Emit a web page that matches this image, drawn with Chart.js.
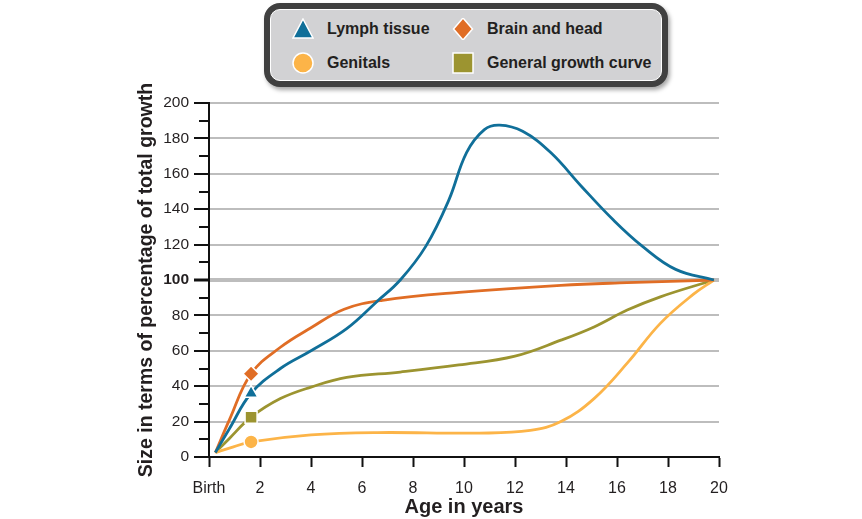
<!DOCTYPE html>
<html>
<head>
<meta charset="utf-8">
<script src="https://cdn.jsdelivr.net/npm/chart.js@4.4.0/dist/chart.umd.min.js"></script>
<style>
  html, body { margin: 0; padding: 0; background: #fff; }
  #wrap { position: relative; width: 862px; height: 519px; }
  #legend {
    position: absolute; left: 264px; top: 3px; width: 404px; height: 84px;
    box-sizing: border-box; border: 6px solid #404040; border-radius: 16px;
    background: #404040; box-shadow: 2px 3px 4px rgba(0,0,0,0.35);
  }
  #legend .inner {
    position: absolute; left: 0; top: 0; right: 0; bottom: 0;
    border: 1.5px solid #fff; border-radius: 10px; background: #d2d2d4;
  }
  #legend .item {
    position: absolute; height: 22px; display: flex; align-items: center;
    font: bold 16px "Liberation Sans", Arial, sans-serif; color: #231f20; white-space: nowrap;
  }
  #legend svg { width: 22px; height: 22px; margin-right: 13px; }
</style>
</head>
<body>
<div id="wrap">
  <canvas id="growth" width="862" height="519"></canvas>
  <div id="legend"><div class="inner"></div></div>
</div>
<script>
// series (age in years, % of total growth)
const seriesNames = ['Lymph tissue', 'Brain and head', 'Genitals', 'General growth curve'];
const seriesColors = ['#106f99', '#e06d25', '#fcb448', '#9c9430'];
const seriesStyles = ['triangle', 'rectRot', 'circle', 'rect'];
const markerAge = 1.65;

const lymphAges = [0.25, 0.8, 1.65, 2.8, 4, 5.4, 6.6, 7.5, 8.5, 9.4, 10.1, 10.8, 11.4, 12.3, 13.4, 14.6, 15.85, 17, 18.3, 19.8];
const lymphValues = [2.5, 16, 36, 50, 60, 72.5, 88, 100, 119, 145, 172, 185, 187.5, 184, 172, 153, 134, 119, 106, 100];

const brainAges = [0.25, 0.8, 1.65, 2.8, 4, 5.3, 6.8, 9.8, 13.8, 16.4, 19.8];
const brainValues = [2.5, 21, 47, 62, 73, 83.5, 88.5, 93, 97, 98.5, 100];

const genitalAges = [0.25, 0.8, 1.65, 4, 6.6, 10.6, 12.6, 13.8, 15.1, 16.4, 17.7, 19, 19.8];
const genitalValues = [2.5, 5, 8.5, 12.5, 13.8, 13.5, 15, 20, 33, 53, 75.5, 92, 100];

const generalAges = [0.25, 0.8, 1.65, 2.8, 4, 5.4, 7.5, 9.8, 12, 13.8, 15.1, 16.4, 17.7, 19.8];
const generalValues = [2.5, 10.5, 22.5, 33, 39.5, 45, 48, 52, 57, 66, 73.5, 83, 90.5, 100];

const xTickLabels = ['Birth', '2', '4', '6', '8', '10', '12', '14', '16', '18', '20'];

const allAges = [lymphAges, brainAges, genitalAges, generalAges];
const allValues = [lymphValues, brainValues, genitalValues, generalValues];
const markerRadius = { triangle: 8, rectRot: 8, circle: 7, rect: 8.5 };

const datasets = seriesNames.map((name, i) => ({
  label: name,
  data: allAges[i].map((a, j) => ({ x: a, y: allValues[i][j] })),
  borderColor: seriesColors[i],
  backgroundColor: seriesColors[i],
  borderWidth: 2.8,
  tension: 0.4,
  pointStyle: seriesStyles[i],
  pointRadius: allAges[i].map(a => a === markerAge ? markerRadius[seriesStyles[i]] : 0),
  pointBorderColor: '#fff',
  pointBorderWidth: 1.5,
  clip: false
}));

const ctx = document.getElementById('growth').getContext('2d');
const growthChart = new Chart(ctx, {
  type: 'line',
  data: { datasets: datasets },
  options: {
    responsive: false,
    animation: false,
    layout: { padding: { left: 131, right: 143, top: 103, bottom: 0 } },
    plugins: { legend: { display: false }, tooltip: { enabled: false } },
    scales: {
      x: {
        type: 'linear', min: 0, max: 20,
        afterFit: s => { s.height = 62; },
        border: { color: '#111', width: 2 },
        grid: { drawOnChartArea: false, tickLength: 10, tickWidth: 2, tickColor: '#111' },
        ticks: {
          stepSize: 2, padding: 12, color: '#231f20',
          font: { family: '"Liberation Sans", Arial', size: 16 },
          callback: v => xTickLabels[Math.round(v / 2)]
        },
        title: {
          display: true, text: 'Age in years', color: '#231f20',
          padding: { top: 0, bottom: 0 },
          font: { family: '"Liberation Sans", Arial', size: 20, weight: 'bold' }
        }
      },
      y: {
        min: 0, max: 200,
        afterFit: s => { s.width = 78; },
        border: { color: '#111', width: 2 },
        grid: {
          color: c => (c.tick && c.tick.value > 0 && c.tick.value % 20 === 0) ? '#bdbdbd' : 'rgba(0,0,0,0)',
          lineWidth: c => (c.tick && c.tick.value === 100) ? 4 : 2,
          tickLength: 15, tickColor: '#111',
          tickWidth: c => (c.tick && c.tick.value === 100) ? 3 : 2,
          tickBorderDash: c => (c.tick && c.tick.value % 20 === 0) ? [] : [0, 5, 30]
        },
        ticks: {
          stepSize: 10, autoSkip: false, padding: 5, color: '#231f20',
          font: c => ({ family: '"Liberation Sans", Arial', size: 15.5, weight: (c.tick && c.tick.value === 100) ? 'bold' : 'normal' }),
          callback: v => v % 20 === 0 ? String(v) : ''
        },
        title: {
          display: true, text: 'Size in terms of percentage of total growth', color: '#231f20',
          padding: { top: 4, bottom: 0 },
          font: { family: '"Liberation Sans", Arial', size: 19.5, weight: 'bold' }
        }
      }
    }
  }
});

// legend drawn from the same series arrays
function markerSvg(style, color) {
  const a = 'fill="' + color + '" stroke="#fff" stroke-width="1.5"';
  if (style === 'triangle') return '<polygon points="11,1 21,20 1,20" ' + a + '/>';
  if (style === 'rectRot') return '<polygon points="11,0 20.5,11 11,22 1.5,11" ' + a + '/>';
  if (style === 'circle') return '<circle cx="11" cy="11" r="10" ' + a + '/>';
  return '<rect x="1" y="1" width="20" height="20" ' + a + '/>';
}
const legendInner = document.querySelector('#legend .inner');
const colLeft = [21, 181];
const rowTop = [7.5, 41.5];
seriesNames.forEach((name, i) => {
  const item = document.createElement('div');
  item.className = 'item';
  item.style.left = colLeft[i % 2] + 'px';
  item.style.top = rowTop[Math.floor(i / 2)] + 'px';
  item.innerHTML = '<svg viewBox="0 0 22 22">' + markerSvg(seriesStyles[i], seriesColors[i]) + '</svg><span>' + name + '</span>';
  legendInner.appendChild(item);
});
</script>
</body>
</html>
